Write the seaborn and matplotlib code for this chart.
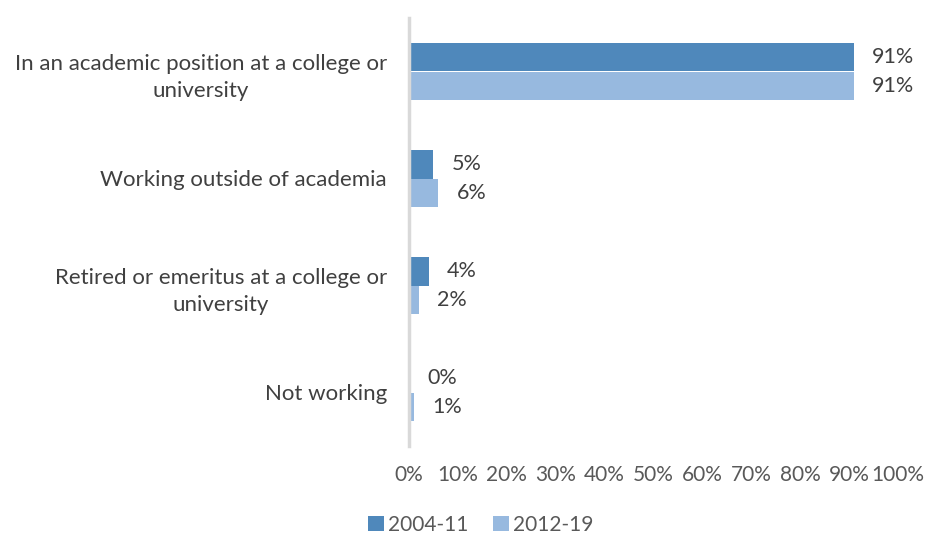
import matplotlib
matplotlib.use("Agg")
import matplotlib.pyplot as plt
from matplotlib.patches import Patch
import seaborn as sns
import pandas as pd

categories = [
    "In an academic position at a college or\nuniversity",
    "Working outside of academia",
    "Retired or emeritus at a college or\nuniversity",
    "Not working",
]
series_names = ["2004-11", "2012-19"]
values_2004_11 = [91, 5, 4, 0]
values_2012_19 = [91, 6, 2, 1]
x_ticks = [0, 10, 20, 30, 40, 50, 60, 70, 80, 90, 100]

colors = ["#4F88BB", "#97B9DF"]
label_color = "#404040"
tick_color = "#595959"

df = pd.DataFrame({
    "category": categories * 2,
    "period": [series_names[0]] * 4 + [series_names[1]] * 4,
    "value": values_2004_11 + values_2012_19,
})

sns.set_theme(style="white")
plt.rcParams["font.family"] = ["Lato", "DejaVu Sans"]

fig = plt.figure(figsize=(9.28, 5.35), dpi=100)
ax = fig.add_axes([409 / 928, 1 - 446 / 535, (898 - 409) / 928, (446 - 18) / 535])

sns.barplot(
    data=df, y="category", x="value", hue="period", orient="h",
    order=categories, hue_order=series_names, palette=colors,
    width=0.53, saturation=1, linewidth=0, ax=ax, legend=False,
)

for container, vals in zip(ax.containers, [values_2004_11, values_2012_19]):
    ax.bar_label(container, labels=[f"{v}%" for v in vals], padding=13,
                 fontsize=15.5, color=label_color)

ax.set_xlim(0, 100)
ax.set_xticks(x_ticks)
ax.set_xticklabels([f"{t}%" for t in x_ticks], fontsize=15, color=tick_color)
ax.tick_params(axis="x", length=0, pad=14)
ax.tick_params(axis="y", length=0, pad=16, labelsize=16, labelcolor=label_color)
for lbl in ax.get_yticklabels():
    lbl.set_horizontalalignment("right")
    lbl.set_multialignment("center")
    lbl.set_linespacing(1.45)
ax.set_xlabel("")
ax.set_ylabel("")

for side in ["top", "right", "bottom"]:
    ax.spines[side].set_visible(False)
ax.spines["left"].set_color("#D9D9D9")
ax.spines["left"].set_linewidth(2.5)

handles = [Patch(facecolor=c, edgecolor="none") for c in colors]
fig.legend(handles, series_names, loc="lower center", bbox_to_anchor=(0.518, -0.035),
           ncol=2, frameon=False, fontsize=15, labelcolor=tick_color,
           handlelength=0.75, handleheight=0.75, handletextpad=0.2, columnspacing=1.2)

fig.savefig("out.png", dpi=100)
